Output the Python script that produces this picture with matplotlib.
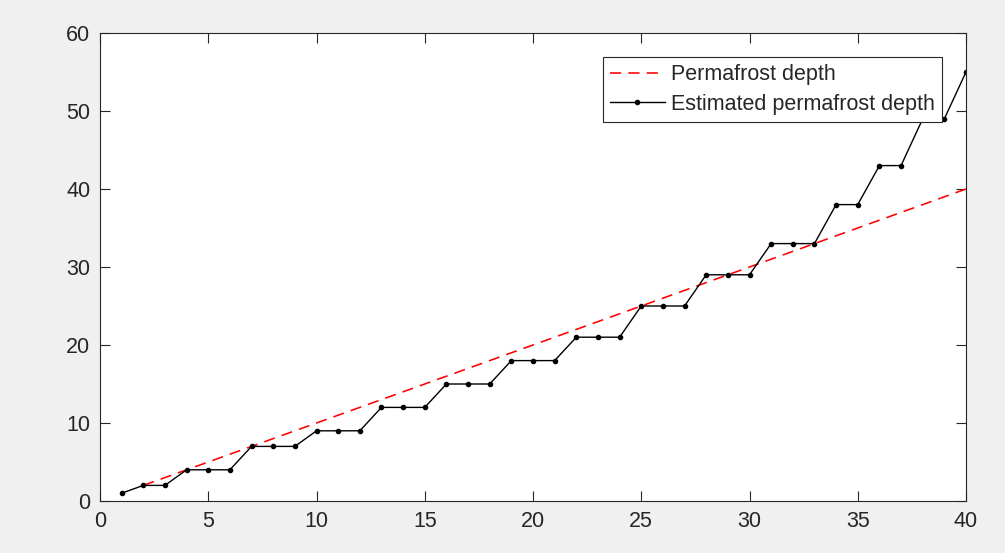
import matplotlib
matplotlib.use('Agg')
import matplotlib.pyplot as plt

# Data
x_true = list(range(2, 41))
y_true = list(range(2, 41))

x_est = list(range(1, 41))
y_est = [1, 2, 2, 4, 4, 4, 7, 7, 7, 9,
         9, 9, 12, 12, 12, 15, 15, 15, 18, 18,
         18, 21, 21, 21, 25, 25, 25, 29, 29, 29,
         33, 33, 33, 38, 38, 43, 43, 49, 49, 55]

plt.rcParams['font.family'] = ['Liberation Sans', 'DejaVu Sans']

fig = plt.figure(figsize=(10.05, 5.53), dpi=100, facecolor='#f0f0f0')
ax = fig.add_axes([100 / 1005, 1 - 501 / 553, 866 / 1005, 468 / 553])
ax.set_facecolor('white')

ax.plot(x_true, y_true, color='#ff0000', linestyle=(0, (7, 4.5)), linewidth=1.15,
        label='Permafrost depth')
ax.plot(x_est, y_est, color='black', marker='o', markersize=3, linewidth=1.0,
        label='Estimated permafrost depth')

ax.set_xlim(0, 40)
ax.set_ylim(0, 60)
ax.set_xticks(range(0, 41, 5))
ax.set_yticks(range(0, 61, 10))

for s in ax.spines.values():
    s.set_color('#262626')
    s.set_linewidth(0.8)
ax.tick_params(direction='in', length=7, width=0.8, color='#262626',
               labelcolor='#262626', labelsize=15.5, top=True, right=True, pad=7)

leg = ax.legend(loc='upper right', bbox_to_anchor=(942 / 1005, 1 - 57 / 553),
                bbox_transform=fig.transFigure, fontsize=15.5, fancybox=False,
                framealpha=1, edgecolor='#262626', borderpad=0.33,
                labelspacing=0.4, handlelength=2.55, handletextpad=0.3,
                borderaxespad=0)
leg.get_frame().set_linewidth(0.8)
for t in leg.get_texts():
    t.set_color('#262626')

fig.savefig('out.png', dpi=100, facecolor=fig.get_facecolor())
